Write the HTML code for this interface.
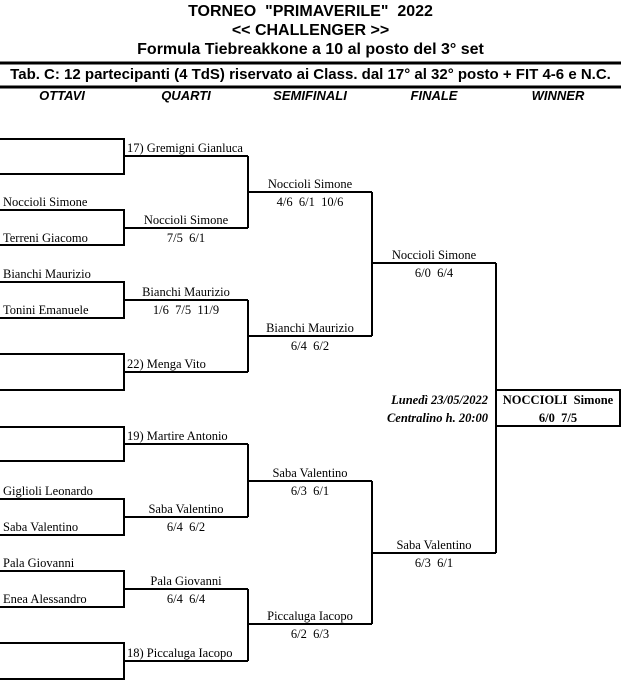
<!DOCTYPE html>
<html><head><meta charset="utf-8"><style>
body{margin:0;width:621px;height:697px;background:#fff;position:relative;overflow:hidden}
.t{position:absolute;white-space:nowrap;font-family:"Liberation Serif",serif;font-size:12.5px;line-height:14px;color:#000}
.c{transform:translateX(-50%)}
.h{position:absolute;left:0;width:621px;text-align:center;font-family:"Liberation Sans",sans-serif;font-weight:bold;font-size:15px;line-height:18px}
.hd{position:absolute;font-family:"Liberation Sans",sans-serif;font-weight:bold;font-style:italic;font-size:13px;transform:translateX(-50%);line-height:15px}
</style></head><body>
<svg width="621" height="697" style="position:absolute;left:0;top:0" stroke="#000" stroke-width="2" fill="none">
<line x1="0" y1="63" x2="621" y2="63" stroke-width="3"/>
<line x1="0" y1="87" x2="621" y2="87" stroke-width="3"/>
<path d="M0 139H124V174H0M124 156H248"/>
<path d="M0 210H124V245H0M124 228H248"/>
<path d="M248 156V228M248 192H372"/>
<path d="M0 282H124V318H0M124 300H248"/>
<path d="M0 354H124V390H0M124 372H248"/>
<path d="M248 300V372M248 336H372"/>
<path d="M372 192V336M372 263H496"/>
<path d="M0 427H124V461H0M124 444H248"/>
<path d="M0 499H124V535H0M124 517H248"/>
<path d="M248 444V517M248 481H372"/>
<path d="M0 571H124V607H0M124 589H248"/>
<path d="M0 643H124V679H0M124 661H248"/>
<path d="M248 589V661M248 624H372"/>
<path d="M372 481V624M372 553H496"/>
<path d="M496 263V553"/>
<rect x="496" y="390" width="124" height="36"/>
</svg>
<div class="h" style="top:3px;font-size:16px">TORNEO &nbsp;"PRIMAVERILE" &nbsp;2022</div>
<div class="h" style="top:22px;font-size:16px">&lt;&lt; CHALLENGER &gt;&gt;</div>
<div class="h" style="top:41px;font-size:16px">Formula Tiebreakkone a 10 al posto del 3° set</div>
<div class="h" style="top:66px">Tab. C: 12 partecipanti (4 TdS) riservato ai Class. dal 17° al 32° posto + FIT 4-6 e N.C.</div>
<div class="hd" style="left:62px;top:88px">OTTAVI</div>
<div class="hd" style="left:186px;top:88px">QUARTI</div>
<div class="hd" style="left:310px;top:88px">SEMIFINALI</div>
<div class="hd" style="left:434px;top:88px">FINALE</div>
<div class="hd" style="left:558px;top:88px">WINNER</div>

<div class="t" style="left:127px;top:141px">17) Gremigni Gianluca</div>
<div class="t" style="left:3px;top:195px">Noccioli Simone</div>
<div class="t" style="left:3px;top:231px">Terreni Giacomo</div>
<div class="t c" style="left:186px;top:213px">Noccioli Simone</div>
<div class="t c" style="left:186px;top:231px">7/5 &nbsp;6/1</div>
<div class="t c" style="left:310px;top:177px">Noccioli Simone</div>
<div class="t c" style="left:310px;top:195px">4/6 &nbsp;6/1 &nbsp;10/6</div>
<div class="t" style="left:3px;top:267px">Bianchi Maurizio</div>
<div class="t" style="left:3px;top:303px">Tonini Emanuele</div>
<div class="t c" style="left:186px;top:285px">Bianchi Maurizio</div>
<div class="t c" style="left:186px;top:303px">1/6 &nbsp;7/5 &nbsp;11/9</div>
<div class="t" style="left:127px;top:357px">22) Menga Vito</div>
<div class="t c" style="left:310px;top:321px">Bianchi Maurizio</div>
<div class="t c" style="left:310px;top:339px">6/4 &nbsp;6/2</div>
<div class="t c" style="left:434px;top:248px">Noccioli Simone</div>
<div class="t c" style="left:434px;top:266px">6/0 &nbsp;6/4</div>

<div class="t" style="right:133px;top:393px;font-weight:bold;font-style:italic">Lunedì 23/05/2022</div>
<div class="t" style="right:133px;top:411px;font-weight:bold;font-style:italic">Centralino h. 20:00</div>
<div class="t c" style="left:558px;top:393px;font-weight:bold">NOCCIOLI &nbsp;Simone</div>
<div class="t c" style="left:558px;top:411px;font-weight:bold">6/0 &nbsp;7/5</div>

<div class="t" style="left:127px;top:429px">19) Martire Antonio</div>
<div class="t" style="left:3px;top:484px">Giglioli Leonardo</div>
<div class="t" style="left:3px;top:520px">Saba Valentino</div>
<div class="t c" style="left:186px;top:502px">Saba Valentino</div>
<div class="t c" style="left:186px;top:520px">6/4 &nbsp;6/2</div>
<div class="t c" style="left:310px;top:466px">Saba Valentino</div>
<div class="t c" style="left:310px;top:484px">6/3 &nbsp;6/1</div>
<div class="t" style="left:3px;top:556px">Pala Giovanni</div>
<div class="t" style="left:3px;top:592px">Enea Alessandro</div>
<div class="t c" style="left:186px;top:574px">Pala Giovanni</div>
<div class="t c" style="left:186px;top:592px">6/4 &nbsp;6/4</div>
<div class="t" style="left:127px;top:646px">18) Piccaluga Iacopo</div>
<div class="t c" style="left:310px;top:609px">Piccaluga Iacopo</div>
<div class="t c" style="left:310px;top:627px">6/2 &nbsp;6/3</div>
<div class="t c" style="left:434px;top:538px">Saba Valentino</div>
<div class="t c" style="left:434px;top:556px">6/3 &nbsp;6/1</div>
</body></html>
